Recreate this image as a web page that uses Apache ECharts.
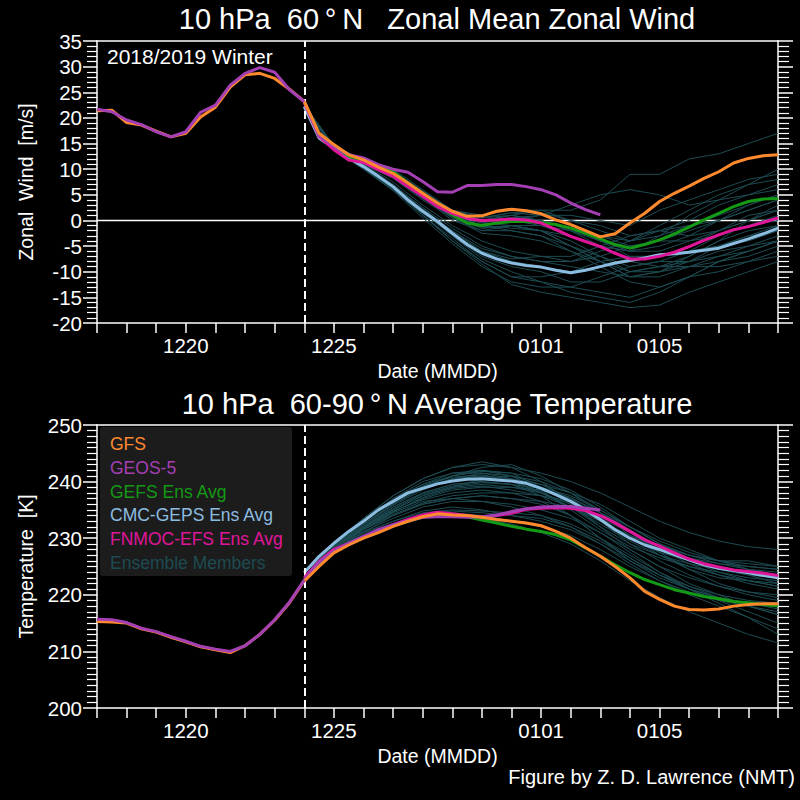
<!DOCTYPE html>
<html><head><meta charset="utf-8">
<script src="https://cdn.jsdelivr.net/npm/echarts@6/dist/echarts.min.js"></script>
<style>html,body{margin:0;padding:0;background:#000}#c{width:800px;height:800px}</style>
</head><body><div id="c"></div><script>
// x = days since 17 Dec 2018
const xMin = 0, xMax = 23, initDay = 7;
const tickDays = [3, 8, 15, 19];
const tickLabels = ['1220', '1225', '0101', '0105'];
const seriesNames = ['GFS', 'GEOS-5', 'GEFS Ens Avg', 'CMC-GEPS Ens Avg', 'FNMOC-EFS Ens Avg', 'Ensemble Members'];

// ---- Zonal wind (m/s) ----
// analysis, 12-hourly, day 0..7
const windAnaGFS  = [21.4, 21.5, 19.1, 18.6, 17.4, 16.3, 17.0, 20.2, 22.1, 26.0, 28.4, 28.7, 27.7, 25.6, 23.2];
const windAnaGEOS = [21.7, 21.2, 19.6, 18.7, 17.3, 16.3, 17.3, 21.1, 22.5, 26.4, 28.7, 29.8, 28.9, 25.5, 23.2];
// forecasts, 12-hourly from day 7
const windGFS   = [23.2, 17.0, 14.8, 12.8, 11.8, 10.4, 9.2, 7.3, 5.3, 3.4, 1.8, 0.8, 0.9, 1.8, 2.2, 1.9, 1.3, 0.1, -0.8, -2.0, -3.2, -2.6, -0.5, 1.4, 3.7, 5.3, 6.7, 8.2, 9.5, 11.2, 12.1, 12.6, 12.8];
const windGEOS  = [23.2, 16.5, 14.4, 12.8, 12.2, 10.9, 10.0, 9.4, 7.6, 5.6, 5.5, 6.8, 6.8, 7.0, 7.0, 6.6, 6.0, 5.0, 3.4, 2.1, 1.1];
const windGEFS  = [23.2, 16.8, 14.5, 12.5, 11.5, 10.5, 9.5, 7.3, 5.3, 3.1, 1.1, -0.5, -1.0, -0.5, -0.2, -0.2, -0.4, -0.8, -1.5, -2.5, -3.6, -4.7, -5.4, -4.7, -3.8, -2.6, -1.3, 0.1, 1.4, 2.7, 3.7, 4.2, 4.3];
const windCMC   = [22.2, 16.1, 14.1, 12.2, 10.5, 8.6, 6.6, 4.0, 1.8, -0.2, -2.5, -4.7, -6.4, -7.5, -8.3, -8.8, -9.1, -9.7, -10.2, -9.7, -9.0, -8.3, -7.8, -7.3, -6.7, -6.5, -6.2, -5.8, -5.4, -4.5, -3.6, -2.6, -1.5];
const windFNMOC = [23.0, 16.4, 13.8, 11.8, 11.3, 9.9, 8.6, 6.6, 4.7, 2.7, 1.4, 0.4, 0.0, 0.1, 0.3, 0.1, -0.5, -1.8, -3.1, -4.1, -5.1, -6.4, -7.5, -7.5, -7.0, -6.2, -5.1, -3.9, -2.8, -1.8, -1.2, -0.4, 0.5];
// ensemble members, daily from day 7
const windMembers = [
  [22.2, 14, 10, 6, 1, -4, -8, -11, -12, -13, -14, -15, -13, -11, -10, -8, -6],
  [22.2, 14.3, 11, 7, 2.5, -1.5, -5, -7, -8, -8, -6, -4, -2, -1, 0, 2, 4],
  [22.2, 13.8, 10.2, 6.2, 1.5, -3, -7, -9, -10, -12, -12, -10, -9, -9, -8, -7, -5],
  [22.2, 14.2, 10.8, 7, 2, -2, -6, -8, -9, -10, -9, -8, -7, -6, -5, -3, -1],
  [22.2, 14, 10.4, 6.5, 2, -3, -7.5, -10, -12, -14, -15, -16, -14, -11, -8, -6, -4],
  [22.2, 14.4, 11, 7.5, 3, -1, -4, -6, -7, -7, -5, -3, -2, -3, -2, 0, 3],
  [22.2, 13.9, 10.3, 6, 1, -3.5, -8, -11, -11, -10, -8, -7, -7, -6, -5, -4, -2],
  [22.2, 14.1, 10.6, 6.8, 2.2, -2, -5.5, -7, -8, -9, -10, -11, -10, -9, -9, -8, -7],
  [22.2, 14.2, 10.7, 7, 2.5, -2.5, -6, -7.5, -7, -8, -7, -5, -4, -4, -3, -1, 1],
  [22.2, 13.8, 10, 5.8, 0.5, -4.5, -9, -12, -13, -13, -11, -9, -8, -8, -7, -6, -4],
  [22.2, 13.9, 10.2, 6.2, 1.2, -4, -8.5, -12.5, -14, -15, -16, -17, -16.5, -14, -12, -10, -8],
  [22.5, 14.5, 11.5, 9.5, 5.5, 2, 0, 1, 2, 2, 4, 9, 9, 12, 13, 15, 17],
  [22.5, 14.4, 11.3, 9, 5, 0.5, -2, -2, -3, -5, -8, -11, -10, -7, -4, 0, 2],
  [22.5, 14.6, 11.8, 10, 6, 2, 0, 1, 0, -2, -5, -6, -3, 1, 4, 7, 10],
  [22.5, 14.3, 11.2, 9, 4.5, 0, -2, -1, -1, -2, -4, -7, -7, -5, -2, 1, 2],
  [22.5, 14.5, 11.6, 9.8, 5.5, 1.5, -0.5, 0.5, 1, 1, 0, -1, 2, 4, 6, 8, 9],
  [22.5, 14.3, 11.4, 9.2, 5, 1, -1.5, -1, -2, -4, -7, -9, -8, -6, -3, -1, 0],
  [22.5, 14.6, 11.7, 9.6, 5.8, 2, 0.5, 1.5, 1, -1, -3, -4, -1, 2, 5, 7, 8],
  [22.5, 14.4, 11.4, 9.4, 5.2, 1, -1, -1.5, -2, -3, -5, -6, -5, -3, 0, 3, 5],
  [22.5, 14.5, 11.5, 9.5, 5.3, 1.2, -1, 0, 1, 3, 5, 6, 5, 3, 4, 5, 6],
  [22.5, 14.2, 11.2, 9, 4.8, 0.5, -2.5, -3, -4, -6, -8, -10, -9, -7, -4, -2, -1],
  [22.5, 13.8, 11.2, 8.5, 4.5, 1, -1, -2, -3, -6, -9, -12, -13, -11, -8, -6, -4],
  [22.5, 13.9, 11.4, 8.8, 5, 2, 1, 2, 2, 0, -1, -3, -2, 0, 3, 5, 7],
  [22.5, 13.7, 11, 8.2, 4, 0.5, -1.5, -1, -2, -5, -7, -10, -10, -8, -5, -3, -2],
  [22.5, 13.9, 11.5, 9, 5.2, 2, 0.5, 1, 0, -2, -4, -6, -6, -4, -2, 0, 2],
  [22.5, 13.8, 11.2, 8.4, 4.4, 1, -0.5, -1, -2, -5, -8, -11, -11, -9, -7, -5, -3],
  [22.5, 14, 11.4, 8.8, 5, 1.8, 0.5, 1.5, 1.5, 0, -2, -4, -3, -1, 1, 3, 5],
  [22.5, 13.7, 11, 8.3, 4.2, 0.8, -1, 0, -1, -3, -5, -8, -9, -8, -6, -5, -4],
  [22.5, 13.9, 11.3, 8.7, 4.8, 1.5, 0, 0.5, 0, -2, -3, -5, -4, -2, 0, 2, 4]
];

// ---- Temperature (K) ----
const tempAnaGFS  = [215.3, 215.2, 215.0, 214.0, 213.4, 212.5, 211.7, 210.8, 210.3, 209.8, 211.0, 213.0, 215.5, 218.6, 222.5];
const tempAnaGEOS = [215.7, 215.6, 215.1, 214.1, 213.5, 212.6, 211.8, 210.9, 210.4, 210.0, 211.0, 213.0, 215.6, 218.7, 222.6];
const tempGFS   = [222.4, 225.0, 227.4, 228.8, 230.0, 231.0, 232.1, 233.0, 233.8, 234.3, 234.1, 234.0, 233.7, 233.3, 233.0, 232.7, 232.2, 231.2, 230.0, 228.3, 226.8, 225.0, 223.0, 220.6, 219.2, 218.0, 217.4, 217.3, 217.5, 218.0, 218.3, 218.4, 218.4];
const tempGEOS  = [222.7, 225.8, 227.7, 229.1, 230.3, 231.5, 232.4, 233.1, 233.7, 233.8, 233.8, 233.7, 233.8, 234.1, 234.7, 235.2, 235.5, 235.6, 235.6, 235.3, 235.0];
const tempGEFS  = [222.6, 225.3, 227.6, 229.0, 230.2, 231.2, 232.2, 233.1, 233.8, 234.2, 234.0, 233.8, 233.2, 232.7, 232.1, 231.6, 231.2, 230.6, 229.7, 228.3, 226.8, 225.3, 223.9, 222.7, 221.8, 220.9, 220.3, 219.7, 219.3, 218.8, 218.6, 218.3, 218.0];
const tempCMC   = [223.9, 226.8, 229.1, 231.2, 233.0, 235.0, 236.5, 238.0, 238.8, 239.6, 240.1, 240.4, 240.5, 240.3, 240.1, 239.7, 238.8, 237.7, 236.5, 235.0, 233.3, 231.5, 230.0, 228.8, 228.0, 227.1, 226.2, 225.3, 224.7, 224.3, 223.9, 223.4, 223.0];
const tempFNMOC = [223.0, 225.9, 228.0, 229.1, 230.3, 231.2, 232.4, 233.3, 234.1, 234.6, 234.3, 234.0, 233.7, 234.0, 234.4, 235.1, 235.3, 235.4, 235.3, 234.9, 234.0, 232.7, 231.2, 229.7, 228.6, 227.4, 226.3, 225.5, 224.9, 224.4, 224.1, 223.8, 223.4];
const tempMembers = [
  [224.3, 229, 233, 237, 239.5, 241, 242, 241.5, 239, 236, 232, 229, 227, 225.5, 224.5, 223.5, 223],
  [224.3, 228.5, 232, 235.5, 238, 239.5, 240, 239.5, 238, 235.5, 232, 228, 225, 222, 220, 218, 216.5],
  [224.3, 228.8, 232.5, 236, 239, 241, 242.5, 243, 241, 238, 235, 232, 229, 227, 226, 226, 225],
  [224.3, 228, 231, 234, 236, 237, 237.5, 237, 236, 234, 230, 226, 223, 221, 219, 217, 215],
  [224.3, 228.5, 232, 235, 237.5, 239, 240.5, 241, 240, 238, 234.5, 230.5, 227, 224.5, 223, 222.5, 222],
  [224.3, 229.2, 233.5, 237.5, 240.5, 242.5, 243.5, 242.5, 240, 236.5, 233, 230, 228, 226.5, 225.5, 225, 224.5],
  [224.3, 228.2, 231.5, 234.5, 236.5, 237, 236.5, 235.5, 234, 232, 229, 225.5, 222.5, 220, 218, 216, 214],
  [224.3, 228.6, 232.2, 235.8, 238.5, 240.5, 241.5, 241, 239.5, 237, 233.5, 230, 227.5, 226, 225, 224, 223.5],
  [224.3, 228.3, 231.8, 235, 237.5, 239, 239.5, 239, 238, 236, 233, 229, 226, 223.5, 221.5, 220, 219],
  [224.3, 229, 233, 236.5, 239, 240.5, 241, 240.5, 239.5, 238, 236, 233, 230, 228, 226, 224.5, 223.5],
  [224.3, 228.4, 231.8, 234.8, 236.8, 238, 238.5, 238, 236.5, 234, 231, 227.5, 224, 221, 218.5, 216, 213],
  [224.3, 228.8, 232.8, 236.5, 239.5, 241.5, 242, 241, 238.5, 235, 231.5, 228.5, 226.5, 225, 224, 223, 222.5],
  [224.3, 228.6, 232.4, 236, 238.8, 240.5, 241, 240, 238, 235.5, 233, 230.5, 228, 226, 224.5, 223.5, 222],
  [224.3, 228.3, 231.6, 234.7, 237, 238.5, 239, 239, 238.5, 237, 234.5, 231, 227.5, 224.5, 222, 220.5, 219.5],
  [224.3, 229, 233.2, 237, 240, 241.5, 241.5, 240.5, 239, 237.5, 235, 232, 229, 226.5, 225, 224, 223.5],
  [224.3, 228.5, 232, 235.5, 238, 239.5, 240, 239.5, 237.5, 234, 230, 226.5, 223.5, 221, 219.5, 218.5, 217.5],
  [224.3, 228.7, 232.5, 236.2, 239.2, 241, 241.8, 241.5, 240.5, 238.5, 235.5, 232, 229, 227, 225.5, 224.5, 224],
  [224.3, 228.4, 232, 235.2, 237.8, 239.2, 239.8, 239.5, 238.8, 237.2, 234.5, 231.5, 228.5, 226, 224, 222.5, 221.5],
  [224.3, 228.9, 232.8, 236.5, 239.2, 240.8, 241.2, 240.2, 238.2, 235.5, 232.5, 229.5, 227, 225, 223.5, 222.5, 221.5],
  [224.3, 228.2, 231.5, 234.6, 237.2, 238.8, 239.2, 238.5, 237.5, 235.5, 233, 230.5, 228.5, 227, 226, 225.5, 225],
  [224, 228, 230.5, 232.5, 234, 234.5, 234, 233, 232, 230.5, 228, 225, 222.5, 220.5, 219, 218, 217],
  [224, 228.2, 231, 233, 234.8, 235.5, 235, 234, 233, 231.5, 229, 226, 223.5, 221.5, 220, 219, 218.5],
  [224, 227.8, 230.2, 232, 233.5, 234, 233.5, 232.5, 231, 229, 226, 222.5, 219.5, 217, 215, 213, 211.5],
  [224, 228.3, 231.2, 233.5, 235.5, 236.5, 236.5, 236, 235, 233.5, 231, 228, 225, 223, 221.5, 220.5, 220],
  [224, 228, 230.8, 233, 234.5, 235, 234.8, 234.5, 234, 232.5, 230, 227, 224, 221.5, 219.5, 218, 216.5],
  [224, 228.5, 231.5, 234, 236, 237, 237.5, 237, 236.5, 235.5, 233.5, 231, 228, 225.5, 223.5, 222, 221],
  [224, 227.9, 230.5, 232.6, 234.2, 234.8, 234.5, 234, 233.5, 232, 229.5, 226.5, 223.5, 221, 219.5, 218.5, 218],
  [224, 228.4, 231.6, 234.2, 236.2, 237.5, 238, 238, 237.5, 236.5, 234.5, 232, 229.5, 227.5, 226, 225, 224.5],
  [224, 229, 233.5, 237.5, 240.5, 242.5, 243, 242.5, 241.5, 240, 238, 235.5, 233, 231, 229.5, 228.5, 228]
];

const colors = {
  'GFS': '#ff8a2e', 'GEOS-5': '#a43fb4', 'GEFS Ens Avg': '#149a14',
  'CMC-GEPS Ens Avg': '#8cbde0', 'FNMOC-EFS Ens Avg': '#e0169a', 'Ensemble Members': '#1d4b52'
};
const FONT = 'Liberation Sans, Helvetica, Arial, sans-serif';

function pts(start, step, vals) { return vals.map((v, i) => [start + i * step, v]); }
function line(name, data, pi, width, z, extra) {
  return Object.assign({
    type: 'line', name, data, xAxisIndex: pi, yAxisIndex: pi, symbol: 'none', silent: true,
    animation: false, z, lineStyle: { color: colors[name], width }, itemStyle: { color: colors[name] }
  }, extra || {});
}
const dashLine = {
  silent: true, symbol: 'none', label: { show: false }, animation: false,
  lineStyle: { color: '#ffffff', type: [8, 4], width: 2 },
  data: [{ xAxis: initDay }]
};

function panelSeries(pi, ana1, ana2, fGFS, fGEOS, fGEFS, fCMC, fFN, members, zero) {
  const s = [];
  if (zero) s.push({ type: 'line', data: [[xMin, 0], [xMax, 0]], xAxisIndex: pi, yAxisIndex: pi,
    symbol: 'none', silent: true, animation: false, z: 1, lineStyle: { color: '#ffffff', width: 1.5 } });
  members.forEach(m => s.push(line('Ensemble Members', pts(initDay, 1, m), pi, 1, 2)));
  s.push(line('CMC-GEPS Ens Avg', pts(initDay, 0.5, fCMC), pi, 3, 3));
  s.push(line('GEFS Ens Avg', pts(initDay, 0.5, fGEFS), pi, 3, 4));
  s.push(line('FNMOC-EFS Ens Avg', pts(initDay, 0.5, fFN), pi, 3, 5));
  s.push(line('GEOS-5', pts(initDay, 0.5, fGEOS), pi, 3, 6));
  s.push(line('GFS', pts(initDay, 0.5, fGFS), pi, 3, 7));
  s.push(line('GFS', pts(0, 0.5, ana1), pi, 3, 8));
  s.push(line('GEOS-5', pts(0, 0.5, ana2), pi, 3, 9, { markLine: dashLine }));
  return s;
}

const axisCol = '#ffffff';
function xAx(gi, bottom) {
  return {
    type: 'value', gridIndex: gi, min: xMin, max: xMax, interval: 1, position: bottom ? 'bottom' : 'top',
    splitLine: { show: false },
    axisLine: { show: true, onZero: false, lineStyle: { color: axisCol, width: 1.5 } },
    axisTick: { show: bottom, inside: false, length: 10, lineStyle: { color: axisCol, width: 1.5 } },
    axisLabel: { show: bottom, color: '#fff', fontSize: 20.5, fontFamily: FONT, margin: 12,
      formatter: v => { const k = tickDays.indexOf(Math.round(v)); return k >= 0 ? tickLabels[k] : ''; } },
    name: bottom ? 'Date (MMDD)' : '', nameLocation: 'middle', nameGap: 38,
    nameTextStyle: { color: '#fff', fontSize: 19.5, fontFamily: FONT }
  };
}
function yAx(gi, left, min, max, interval, minorSplit, name) {
  return {
    type: 'value', gridIndex: gi, min, max, interval, position: left ? 'left' : 'right',
    splitLine: { show: false },
    axisLine: { show: true, onZero: false, lineStyle: { color: axisCol, width: 1.5 } },
    axisTick: { show: true, inside: false, length: left ? 14 : 15, lineStyle: { color: axisCol, width: 1.5 } },
    minorTick: { show: true, splitNumber: minorSplit, length: left ? 10 : 11, lineStyle: { color: axisCol, width: 1.2 } },
    axisLabel: { show: left, color: '#fff', fontSize: 20.5, fontFamily: FONT, margin: 15 },
    name: left ? name : '', nameLocation: 'middle', nameGap: 61,
    nameTextStyle: { color: '#fff', fontSize: 19.5, fontFamily: FONT }
  };
}

const chart = echarts.init(document.getElementById('c'), null, { renderer: 'svg', width: 800, height: 800 });
chart.setOption({
  backgroundColor: '#000000',
  animation: false,
  grid: [
    { left: 97, right: 22, top: 41, height: 282 },
    { left: 97, right: 22, top: 425, height: 283 }
  ],
  // indices 0,1 = bottom axes of panels 0,1 (used by series); 2,3 = top frame lines
  xAxis: [xAx(0, true), xAx(1, true), xAx(0, false), xAx(1, false)],
  yAxis: [
    yAx(0, true, -20, 35, 5, 5, 'Zonal  Wind  [m/s]'),
    yAx(1, true, 200, 250, 10, 10, 'Temperature  [K]'),
    yAx(0, false, -20, 35, 5, 5, ''),
    yAx(1, false, 200, 250, 10, 10, '')
  ],
  legend: {
    orient: 'vertical', left: 100, top: 430, itemGap: 5.8, itemWidth: 0, itemHeight: 17.5, icon: 'none',
    selectedMode: false,
    data: seriesNames.map(n => ({ name: n, icon: 'none', textStyle: { color: colors[n], fontSize: 17.5, fontFamily: FONT } }))
  },
  graphic: [
    { type: 'rect', z: -1, shape: { x: 100, y: 427, width: 192, height: 149, r: 3 }, style: { fill: '#1c1c1c' } },
    { type: 'text', x: 437, y: 19, style: { text: '10 hPa  60\u2009\u00b0\u2009N   Zonal Mean Zonal Wind', fill: '#fff', font: '29px ' + FONT, textAlign: 'center', textVerticalAlign: 'middle' } },
    { type: 'text', x: 437, y: 404, style: { text: '10 hPa  60-90\u2009\u00b0\u2009N Average Temperature', fill: '#fff', font: '29px ' + FONT, textAlign: 'center', textVerticalAlign: 'middle' } },
    { type: 'text', x: 107, y: 56, style: { text: '2018/2019 Winter', fill: '#fff', font: '21px ' + FONT, textAlign: 'left', textVerticalAlign: 'middle' } },
    { type: 'text', x: 795, y: 777, style: { text: 'Figure by Z. D. Lawrence (NMT)', fill: '#fff', font: '20px ' + FONT, textAlign: 'right', textVerticalAlign: 'middle' } }
  ],
  series: [].concat(
    panelSeries(0, windAnaGFS, windAnaGEOS, windGFS, windGEOS, windGEFS, windCMC, windFNMOC, windMembers, true),
    panelSeries(1, tempAnaGFS, tempAnaGEOS, tempGFS, tempGEOS, tempGEFS, tempCMC, tempFNMOC, tempMembers, false)
  )
});
</script></body></html>
